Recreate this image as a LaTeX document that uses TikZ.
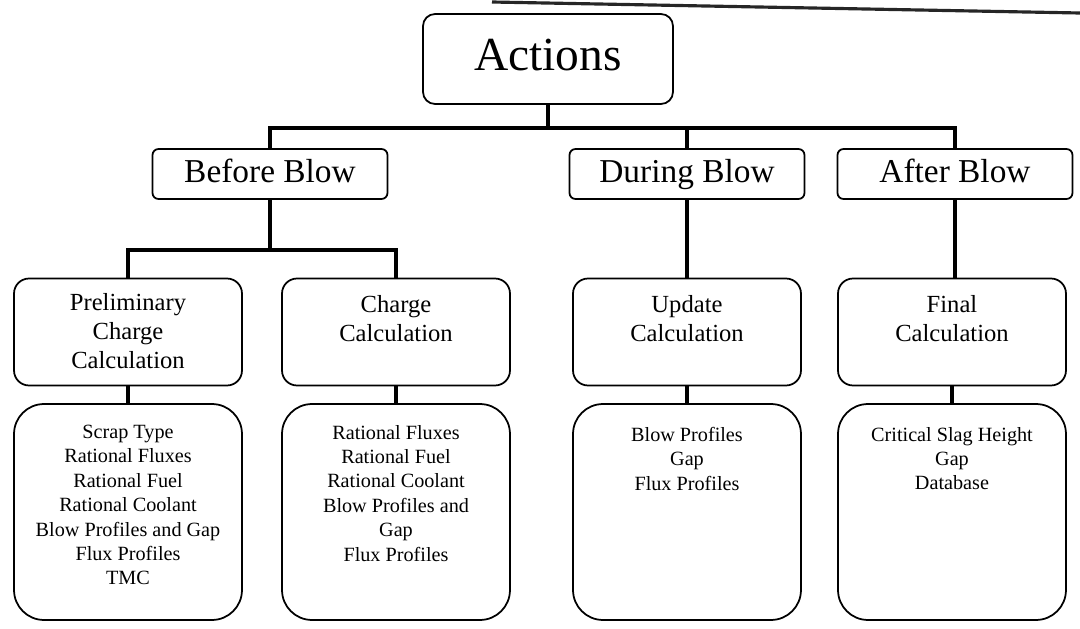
\documentclass[tikz,border=0pt]{standalone}
\usepackage{fontspec}
\setmainfont{Liberation Serif}
\usetikzlibrary{positioning}

% text block that starts near the top of its box
\newcommand{\boxlines}[4]{\parbox[c][#2][t]{#1}{\centering\vspace*{#3}#4\par}}

\begin{document}
\begin{tikzpicture}[x=0.02cm, y=-0.02cm,
    topbox/.style={draw, line width=1pt, rounded corners=2.4mm, inner sep=0pt,
        minimum width=50mm, minimum height=18mm, text height=19pt, text depth=6pt,
        font=\fontsize{27}{30}\selectfont},
    phasebox/.style={draw, line width=1pt, rounded corners=1.2mm, inner sep=0pt,
        minimum width=47mm, minimum height=10mm, text height=13pt, text depth=3pt,
        font=\fontsize{19}{22}\selectfont},
    calcbox/.style={draw, line width=1pt, rounded corners=3mm, inner sep=0pt,
        font=\fontsize{14}{16.4}\selectfont},
    listbox/.style={draw, line width=1pt, rounded corners=6mm, inner sep=0pt,
        font=\fontsize{11.5}{13.9}\selectfont},
    link/.style={line width=2.6pt}]

    \useasboundingbox (0,0) rectangle (1080,629);
    \draw[line width=1.8pt, black!85] (492,2) -- (1080,13);

    \node[topbox] (act) at (548,59) {Actions};

    \node[phasebox] (before) at (270,174) {Before Blow};
    \node[phasebox] (during) at (687,174) {During Blow};
    \node[phasebox] (after)  at (955,174) {After Blow};

    \node[calcbox] (prelim) at (128,332)
        {\boxlines{45.6mm}{21.4mm}{3.0mm}{Preliminary\\Charge\\Calculation}};
    \node[calcbox] (charge) at (396,332)
        {\boxlines{45.6mm}{21.4mm}{3.4mm}{Charge\\Calculation}};
    \node[calcbox] (update) at (687,332)
        {\boxlines{45.6mm}{21.4mm}{3.4mm}{Update\\Calculation}};
    \node[calcbox] (final)  at (952,332)
        {\boxlines{45.6mm}{21.4mm}{3.4mm}{Final\\Calculation}};

    \node[listbox] (prelimlist) at (128,512)
        {\boxlines{45.6mm}{43.2mm}{4.2mm}{Scrap Type\\Rational Fluxes\\Rational Fuel\\
        Rational Coolant\\Blow Profiles and Gap\\Flux Profiles\\TMC}};
    \node[listbox] (chargelist) at (396,512)
        {\boxlines{45.6mm}{43.2mm}{4.2mm}{Rational Fluxes\\Rational Fuel\\Rational Coolant\\
        Blow Profiles and\\Gap\\Flux Profiles}};
    \node[listbox] (updatelist) at (687,512)
        {\boxlines{45.6mm}{43.2mm}{4.6mm}{Blow Profiles\\Gap\\Flux Profiles}};
    \node[listbox] (finallist)  at (952,512)
        {\boxlines{45.6mm}{43.2mm}{4.6mm}{Critical Slag Height\\Gap\\Database}};

    % tree links
    \coordinate (bar1) at (0,128);
    \coordinate (bar2) at (0,250);
    \draw[link] (act.south) -- (act.south |- bar1);
    \draw[link] (before.north) -- (before.north |- bar1) -- (after.north |- bar1) -- (after.north);
    \draw[link] (during.north) -- (during.north |- bar1);

    \draw[link] (before.south) -- (before.south |- bar2);
    \draw[link] (prelim.north) -- (prelim.north |- bar2) -- (charge.north |- bar2) -- (charge.north);
    \draw[link] (during.south) -- (update.north);
    \draw[link] (after.south) -- (after.south |- final.north);

    \foreach \a/\b in {prelim/prelimlist, charge/chargelist, update/updatelist, final/finallist}
        \draw[link] (\a.south) -- (\b.north);
\end{tikzpicture}
\end{document}
